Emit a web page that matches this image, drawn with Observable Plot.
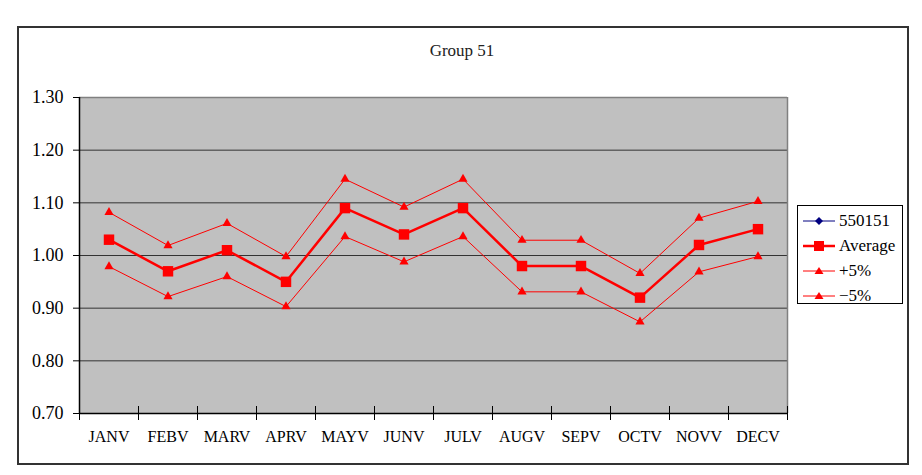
<!DOCTYPE html>
<html>
<head>
<meta charset="utf-8">
<script src="https://cdn.jsdelivr.net/npm/d3@7"></script>
<script src="https://cdn.jsdelivr.net/npm/@observablehq/plot@0.6"></script>
<style>
  html, body { margin: 0; padding: 0; background: #fff; }
  #wrap { position: relative; width: 922px; height: 475px; font-family: "Liberation Serif", "DejaVu Serif", "Times New Roman", serif; color: #000; }
  #border { position: absolute; left: 17px; top: 26px; width: 888px; height: 435px; border: 2px solid #333; box-sizing: content-box; pointer-events: none; }
  #title { position: absolute; left: 362px; width: 200px; top: 41px; text-align: center; font-size: 17px; color: #222; }
  #chart { position: absolute; left: 0; top: 0; }
  #legend { position: absolute; left: 797px; top: 205px; width: 104px; height: 97px; border: 1px solid #000; background: #fff; }
  .item { position: absolute; left: 0; height: 20px; display: flex; align-items: center; font-size: 17px; }
  .item svg { margin-left: 5px; margin-right: 4px; }
</style>
</head>
<body>
<div id="wrap">
  <div id="chart"></div>
  <div id="border"></div>
  <div id="title">Group 51</div>
  <div id="legend"></div>
</div>
<script>
// ---- data ----
const months = ["JANV","FEBV","MARV","APRV","MAYV","JUNV","JULV","AUGV","SEPV","OCTV","NOVV","DECV"];
const series550151 = []; // no values plotted in the reference
const average = [1.03, 0.97, 1.01, 0.95, 1.09, 1.04, 1.09, 0.98, 0.98, 0.92, 1.02, 1.05];
const plus5   = [1.082, 1.019, 1.061, 0.998, 1.145, 1.092, 1.145, 1.029, 1.029, 0.966, 1.071, 1.103];
const minus5  = [0.979, 0.922, 0.960, 0.903, 1.036, 0.988, 1.036, 0.931, 0.931, 0.874, 0.969, 0.998];
const yTicks  = [0.7, 0.8, 0.9, 1.0, 1.1, 1.2, 1.3];
const gridVals = [0.8, 0.9, 1.0, 1.1, 1.2];
const legendNames = ["550151", "Average", "+5%", "\u22125%"];

const toRows = (vals) => months.map((m, i) => ({month: m, value: vals[i]}));
const avgRows = toRows(average);
const plusRows = toRows(plus5);
const minusRows = toRows(minus5);

const W = 922, H = 475, ML = 79, MR = 135, MT = 97, MB = 62;
const bw = (W - ML - MR) / months.length;
const RED = "#FF0000";
const FONT = "'Liberation Serif', 'DejaVu Serif', 'Times New Roman', serif";

const chart = Plot.plot({
  width: W, height: H,
  marginLeft: ML, marginRight: MR, marginTop: MT, marginBottom: MB,
  style: { fontFamily: FONT, fontSize: "18px", color: "#000", background: "transparent", overflow: "visible" },
  x: { type: "band", domain: months, padding: 0, axis: null },
  y: { domain: [0.7, 1.3], ticks: yTicks, tickSize: 6, tickPadding: 10, tickFormat: d3.format(".2f"), label: null },
  marks: [
    Plot.frame({ fill: "#C0C0C0", stroke: null }),
    Plot.ruleY(gridVals, { stroke: "#333", strokeWidth: 1 }),
    Plot.ruleY([1.3], { stroke: "#808080", strokeWidth: 1.5 }),
    Plot.ruleX(["DECV"], { dx: bw / 2, stroke: "#808080", strokeWidth: 1.5 }),
    Plot.ruleY([0.7], { stroke: "#000", strokeWidth: 1.5 }),
    Plot.ruleX(months, { x: d => d, y1: 0.7, y2: 0.7, insetTop: -7, insetBottom: -7, dx: -bw / 2, stroke: "#000", strokeWidth: 1 }),
    Plot.ruleX(["DECV"], { y1: 0.7, y2: 0.7, insetTop: -7, insetBottom: -7, dx: bw / 2, stroke: "#000", strokeWidth: 1 }),
    Plot.ruleX(["JANV"], { y1: 0.7, y2: 1.3, dx: -bw / 2, stroke: "#000", strokeWidth: 1.5 }),
    Plot.text(months, { x: d => d, frameAnchor: "bottom", dy: 28, text: d => d, fontSize: 16, fill: "#000", fontFamily: FONT }),
    Plot.line(plusRows, { x: "month", y: "value", stroke: RED, strokeWidth: 1 }),
    Plot.line(minusRows, { x: "month", y: "value", stroke: RED, strokeWidth: 1 }),
    Plot.line(avgRows, { x: "month", y: "value", stroke: RED, strokeWidth: 2.5 }),
    Plot.dot(plusRows, { x: "month", y: "value", symbol: "triangle", fill: RED, stroke: null, r: 3.4 }),
    Plot.dot(minusRows, { x: "month", y: "value", symbol: "triangle", fill: RED, stroke: null, r: 3.4 }),
    Plot.dot(avgRows, { x: "month", y: "value", symbol: "square", fill: RED, stroke: null, r: 5.9 })
  ]
});
document.getElementById("chart").appendChild(chart);

// ---- legend ----
const swatches = [
  '<line x1="0" y1="10" x2="32" y2="10" stroke="#000080" stroke-width="1"/><path d="M16 6 L20 10 L16 14 L12 10 Z" fill="#000080"/>',
  '<line x1="0" y1="10" x2="32" y2="10" stroke="#FF0000" stroke-width="2.5"/><rect x="11" y="5" width="10" height="10" fill="#FF0000"/>',
  '<line x1="0" y1="10" x2="32" y2="10" stroke="#FF0000" stroke-width="1"/><path d="M16 6 L20.5 13 L11.5 13 Z" fill="#FF0000"/>',
  '<line x1="0" y1="10" x2="32" y2="10" stroke="#FF0000" stroke-width="1"/><path d="M16 6 L20.5 13 L11.5 13 Z" fill="#FF0000"/>'
];
const legend = document.getElementById("legend");
legendNames.forEach((name, i) => {
  const div = document.createElement("div");
  div.className = "item";
  div.style.top = (5 + i * 25) + "px";
  div.innerHTML = `<svg width="32" height="20">${swatches[i]}</svg><span>${name}</span>`;
  legend.appendChild(div);
});
</script>
</body>
</html>
